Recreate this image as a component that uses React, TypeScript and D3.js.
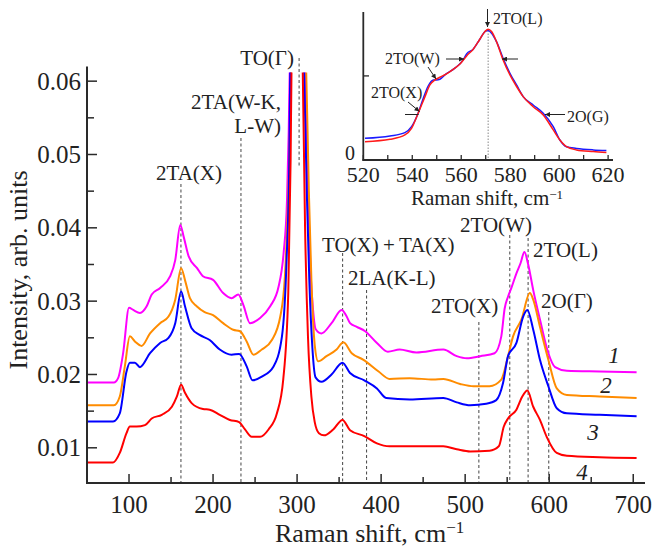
import React from "react";
import * as d3 from "d3";

// ---------- Main chart data (Raman shift, intensity) ----------
const shift1 = [50, 82, 87, 93, 100, 105, 113, 121, 127, 137, 149, 155, 161, 165, 171, 181, 188, 200, 212, 222, 230, 236, 244, 256, 268, 278, 284, 288, 290, 291.5, 300, 309, 313, 316, 319, 322, 329, 341, 353, 359, 363, 371, 381, 395, 408, 422, 442, 474, 490, 502, 518, 535, 543, 547, 551, 555, 561, 566, 570.5, 575, 581, 589, 599, 607, 621, 660, 704];
const int1 = [0.0189, 0.0189, 0.0195, 0.0229, 0.0291, 0.0288, 0.0284, 0.0293, 0.0309, 0.0318, 0.0334, 0.0356, 0.0404, 0.0388, 0.0361, 0.0345, 0.0334, 0.0329, 0.0311, 0.0304, 0.0309, 0.0295, 0.027, 0.0277, 0.0293, 0.032, 0.0366, 0.0438, 0.053, 0.063, 0.08, 0.063, 0.045, 0.034, 0.0288, 0.0262, 0.0256, 0.027, 0.0288, 0.0279, 0.027, 0.0265, 0.0259, 0.0243, 0.0231, 0.0234, 0.023, 0.0234, 0.0225, 0.0222, 0.0225, 0.0229, 0.0252, 0.029, 0.0306, 0.0318, 0.0338, 0.0352, 0.0367, 0.035, 0.0315, 0.0275, 0.0229, 0.021, 0.0205, 0.0204, 0.0203];

const shift2 = [50, 82, 89, 95, 101, 107, 115, 125, 137, 147, 155, 162, 167, 172.5, 180.5, 190, 200, 212, 224, 232, 240, 248, 258, 270, 280, 285.5, 289.5, 292, 293, 301, 310.5, 314, 317, 321, 325, 335, 347, 355, 365, 379, 397, 410, 434, 462, 474, 494, 510, 529, 543, 551, 557, 567, 577, 581, 589, 599, 609, 621, 660, 704];
const int2 = [0.0158, 0.0158, 0.017, 0.0211, 0.0252, 0.0245, 0.0239, 0.0256, 0.027, 0.0279, 0.0302, 0.0345, 0.0327, 0.0304, 0.0293, 0.0285, 0.0281, 0.027, 0.0261, 0.0259, 0.0245, 0.0227, 0.0234, 0.0247, 0.0279, 0.0334, 0.0447, 0.056, 0.063, 0.08, 0.063, 0.045, 0.033, 0.024, 0.0218, 0.0225, 0.0234, 0.0244, 0.0229, 0.022, 0.0204, 0.0194, 0.0195, 0.0193, 0.0194, 0.0187, 0.0184, 0.0184, 0.0193, 0.0225, 0.0252, 0.0275, 0.0311, 0.0302, 0.0265, 0.022, 0.0181, 0.0172, 0.017, 0.0168];

const shift3 = [50, 81, 89, 97, 101, 107, 113, 125, 137, 147, 155, 162, 166.6, 174.5, 184, 196, 208, 222, 231, 240, 247, 258, 272, 282, 287.5, 290.7, 292, 300, 308, 311.5, 314.5, 318, 322, 329, 341, 354, 363, 380, 395, 406, 434, 474, 490, 506, 525, 537, 545, 551, 561, 569, 574, 581, 589, 599, 609, 621, 660, 704];
const int3 = [0.0136, 0.0136, 0.0147, 0.0204, 0.0216, 0.0216, 0.021, 0.0229, 0.0243, 0.025, 0.027, 0.0313, 0.0293, 0.0263, 0.0254, 0.0247, 0.0234, 0.0227, 0.0228, 0.0211, 0.0192, 0.0197, 0.0211, 0.0252, 0.0356, 0.0493, 0.063, 0.08, 0.063, 0.045, 0.033, 0.024, 0.0196, 0.019, 0.02, 0.0216, 0.0202, 0.0192, 0.0181, 0.0168, 0.0166, 0.0168, 0.0162, 0.0158, 0.016, 0.0165, 0.0188, 0.0225, 0.0243, 0.0279, 0.0288, 0.0261, 0.022, 0.0184, 0.0154, 0.0147, 0.0145, 0.0143];

const shift4 = [50, 81, 89, 97, 101, 109, 119, 127, 139, 151, 157, 162, 166.6, 174.5, 188, 196, 208, 220, 231, 238, 246, 256, 266, 276, 283.5, 289.5, 292.3, 293.5, 300, 306.5, 309.5, 313, 317, 321, 326, 332, 343, 354, 363, 380, 395, 410, 434, 474, 490, 506, 529, 540, 546, 551, 561, 568, 574, 581, 589, 597, 609, 621, 660, 704];
const int4 = [0.008, 0.008, 0.0093, 0.012, 0.0129, 0.0129, 0.0131, 0.014, 0.0145, 0.0156, 0.017, 0.0186, 0.0175, 0.0161, 0.0153, 0.0152, 0.0145, 0.0138, 0.0135, 0.0125, 0.0115, 0.0115, 0.0125, 0.0147, 0.0193, 0.0311, 0.0493, 0.063, 0.08, 0.063, 0.04, 0.025, 0.017, 0.0135, 0.012, 0.0117, 0.0125, 0.0138, 0.0124, 0.0116, 0.0106, 0.0102, 0.0102, 0.0102, 0.0098, 0.0095, 0.0096, 0.0102, 0.0129, 0.014, 0.0152, 0.017, 0.0178, 0.0156, 0.0138, 0.0115, 0.0093, 0.0089, 0.0087, 0.0086];

const seriesColors = ["#ff00ff", "#ff8c00", "#0000ff", "#ff0000"];
const seriesNames = ["1", "2", "3", "4"];
const nameLabelPos = [[614, 363], [606, 393], [593, 440], [582, 480]];

const xTicks = [100, 200, 300, 400, 500, 600, 700];
const xMinorTicks = [150, 250, 350, 450, 550, 650];
const yTicks = [0.01, 0.02, 0.03, 0.04, 0.05, 0.06];
const yMinorTicks = [0.015, 0.025, 0.035, 0.045, 0.055];

// wavenumbers of the dashed assignment lines
const annoShift = [161.8, 233.2, 302.4, 354.2, 382.7, 516.3, 553.1, 574.9, 599.5];

// ---------- Inset data ----------
const insetShiftBlue = [520.7, 530.9, 537.0, 539.7, 542.4, 544.5, 546.5, 548.6, 549.9, 551.3, 553.3, 557.4, 560.8, 562.2, 564.9, 567.6, 569.7, 571.0, 572.4, 574.4, 577.1, 579.9, 582.6, 585.3, 589.4, 593.5, 597.6, 600.3, 603.0, 607.1, 613.9, 619.3];
const insetBlue = [0.129, 0.143, 0.163, 0.198, 0.278, 0.367, 0.44, 0.476, 0.476, 0.48, 0.506, 0.546, 0.595, 0.631, 0.659, 0.718, 0.764, 0.77, 0.754, 0.704, 0.605, 0.516, 0.446, 0.377, 0.327, 0.278, 0.198, 0.119, 0.079, 0.069, 0.06, 0.056];
const insetShiftRed = [520.7, 530.9, 537.0, 539.7, 542.4, 545.2, 547.2, 549.3, 551.3, 554.0, 557.4, 559.5, 562.2, 564.9, 567.6, 569.7, 571.0, 572.4, 574.4, 577.1, 579.9, 582.6, 585.3, 589.4, 593.5, 597.6, 600.3, 603.0, 607.1, 613.9, 619.3];
const insetRed = [0.109, 0.123, 0.149, 0.188, 0.278, 0.377, 0.446, 0.476, 0.492, 0.512, 0.546, 0.571, 0.619, 0.659, 0.718, 0.764, 0.778, 0.764, 0.704, 0.595, 0.506, 0.437, 0.377, 0.317, 0.268, 0.179, 0.119, 0.079, 0.06, 0.05, 0.044];
const insetXTicks = [520, 540, 560, 580, 600, 620];
const insetXMinor = [530, 550, 570, 590, 610];
const insetYTicks = [0, 0.5];
const insetMarker = 571;

const FONT = "'Liberation Serif', 'Times New Roman', serif";
const INK = "#2a2a2a";

export default function App() {
  const x = d3.scaleLinear().domain([50, 714]).range([87, 645]);
  const y = d3.scaleLinear().domain([0.0052, 0.062]).range([483, 66.5]);
  const line = (xs: number[], ys: number[]) =>
    d3.line<number>().x((_, i) => x(xs[i])).y((d) => y(d)).curve(d3.curveMonotoneX)(ys) || "";
  const shifts = [shift1, shift2, shift3, shift4];
  const ints = [int1, int2, int3, int4];

  const ix = d3.scaleLinear().domain([520, 622]).range([363.3, 613]);
  const iy = d3.scaleLinear().domain([0, 0.88]).range([160, 12]);
  const iline = (xs: number[], ys: number[]) =>
    d3.line<number>().x((_, i) => ix(xs[i])).y((d) => iy(d)).curve(d3.curveMonotoneX)(ys) || "";

  const annoTops = [184, 138, 58, 253, 290, 322, 235, 238, 312];
  const annoBottoms = [483, 483, 168, 483, 483, 483, 483, 483, 483];

  const annoTexts: { t: string; x: number; y: number; anchor: string }[] = [
    { t: "2TA(X)", x: 156, y: 180, anchor: "start" },
    { t: "2TA(W-K,", x: 281, y: 109, anchor: "end" },
    { t: "L-W)", x: 281, y: 133, anchor: "end" },
    { t: "TO(Γ)", x: 294, y: 65, anchor: "end" },
    { t: "TO(X)\u2009+\u2009TA(X)", x: 322, y: 252, anchor: "start" },
    { t: "2LA(K-L)", x: 348, y: 285, anchor: "start" },
    { t: "2TO(X)", x: 431, y: 313, anchor: "start" },
    { t: "2TO(W)", x: 460, y: 232, anchor: "start" },
    { t: "2TO(L)", x: 533, y: 257, anchor: "start" },
    { t: "2O(Γ)", x: 541, y: 308, anchor: "start" },
  ];

  return (
    <svg width={655} height={550} style={{ position: "absolute", left: 0, top: 0, background: "#fff" }} fontFamily={FONT}>
      <defs>
        <clipPath id="plotclip">
          <rect x={87} y={72.5} width={560} height={411} />
        </clipPath>
        <marker id="ah" viewBox="0 0 10 10" refX="10" refY="5" markerWidth="7" markerHeight="5" markerUnits="userSpaceOnUse" orient="auto">
          <path d="M0,0 L10,5 L0,10 z" fill="#222" />
        </marker>
      </defs>
      <rect width={655} height={550} fill="#fff" />

      {/* dashed annotation lines */}
      {annoShift.map((s, i) => (
        <line key={"dl" + i} x1={x(s)} x2={x(s)} y1={annoTops[i]} y2={annoBottoms[i]} stroke="#444" strokeWidth={1} strokeDasharray="3,2.5" />
      ))}

      {/* curves */}
      <g clipPath="url(#plotclip)">
        {shifts.map((xs, i) => (
          <path key={"c" + i} d={line(xs, ints[i])} fill="none" stroke={seriesColors[i]} strokeWidth={2} strokeLinejoin="round" />
        ))}
      </g>

      {/* axes */}
      <line x1={87} x2={87} y1={66.5} y2={484} stroke={INK} strokeWidth={2} />
      <line x1={86} x2={645} y1={483} y2={483} stroke={INK} strokeWidth={2} />
      {xTicks.map((t) => (
        <g key={"xt" + t}>
          <line x1={x(t)} x2={x(t)} y1={483} y2={474} stroke={INK} strokeWidth={1.5} />
          <text x={x(t)} y={513} fontSize={25} textAnchor="middle" fill="#222">{t}</text>
        </g>
      ))}
      {xMinorTicks.map((t) => (
        <line key={"xm" + t} x1={x(t)} x2={x(t)} y1={483} y2={477} stroke={INK} strokeWidth={1.5} />
      ))}
      {yTicks.map((t) => (
        <g key={"yt" + t}>
          <line x1={87} x2={97} y1={y(t)} y2={y(t)} stroke={INK} strokeWidth={1.5} />
          <text x={81} y={y(t) + 8.5} fontSize={25} textAnchor="end" fill="#222">{t.toFixed(2)}</text>
        </g>
      ))}
      {yMinorTicks.map((t) => (
        <line key={"ym" + t} x1={87} x2={94} y1={y(t)} y2={y(t)} stroke={INK} strokeWidth={1.5} />
      ))}
      <text x={275} y={542} fontSize={26} fill="#222">
        Raman shift, cm<tspan dy={-9} fontSize={17}>−1</tspan>
      </text>
      <text transform="translate(27,270) rotate(-90)" fontSize={26} textAnchor="middle" fill="#222">
        Intensity, arb. units
      </text>

      {/* annotation labels */}
      {annoTexts.map((a, i) => (
        <text key={"at" + i} x={a.x} y={a.y} fontSize={21} textAnchor={a.anchor as any} fill="#222">{a.t}</text>
      ))}

      {/* curve numbers */}
      {seriesNames.map((n, i) => (
        <text key={"n" + i} x={nameLabelPos[i][0]} y={nameLabelPos[i][1]} fontSize={23} fontStyle="italic" textAnchor="middle" fill="#222">{n}</text>
      ))}

      {/* ---------- inset ---------- */}
      <line x1={ix(insetMarker)} x2={ix(insetMarker)} y1={iy(0.77)} y2={160} stroke="#888" strokeWidth={1} strokeDasharray="1.5,1.5" />
      <path d={iline(insetShiftBlue, insetBlue)} fill="none" stroke="#1a1aff" strokeWidth={1.5} />
      <path d={iline(insetShiftRed, insetRed)} fill="none" stroke="#ff1a1a" strokeWidth={1.5} />
      <line x1={363.3} x2={363.3} y1={12} y2={161} stroke={INK} strokeWidth={1.8} />
      <line x1={362.5} x2={613} y1={160} y2={160} stroke={INK} strokeWidth={1.8} />
      {insetXTicks.map((t) => (
        <g key={"ixt" + t}>
          <line x1={ix(t)} x2={ix(t)} y1={160} y2={155} stroke={INK} strokeWidth={1.3} />
          <text x={ix(t)} y={182} fontSize={22} textAnchor="middle" fill="#222">{t}</text>
        </g>
      ))}
      {insetXMinor.map((t) => (
        <line key={"ixm" + t} x1={ix(t)} x2={ix(t)} y1={160} y2={155} stroke={INK} strokeWidth={1.3} />
      ))}
      {insetYTicks.map((t) => (
        <line key={"iyt" + t} x1={363.3} x2={369} y1={iy(t)} y2={iy(t)} stroke={INK} strokeWidth={1.3} />
      ))}
      <text x={355} y={160} fontSize={20} textAnchor="end" fill="#222">0</text>
      <text x={411} y={205} fontSize={21} fill="#222">
        Raman shift, cm<tspan dy={-6} fontSize={13}>−1</tspan>
      </text>

      {/* inset annotations */}
      <text x={493} y={24} fontSize={16} fill="#222">2TO(L)</text>
      <line x1={487.5} x2={487.5} y1={9} y2={27} stroke="#222" strokeWidth={1} markerEnd="url(#ah)" />
      <text x={385} y={64} fontSize={16} fill="#222">2TO(W)</text>
      <line x1={446} x2={464} y1={59} y2={59} stroke="#222" strokeWidth={1} markerEnd="url(#ah)" />
      <line x1={518} x2={502} y1={59} y2={59} stroke="#222" strokeWidth={1} markerEnd="url(#ah)" />
      <line x1={428} x2={436} y1={67} y2={79} stroke="#222" strokeWidth={1} markerEnd="url(#ah)" />
      <text x={371} y={98} fontSize={16} fill="#222">2TO(X)</text>
      <line x1={408} x2={419.5} y1={102} y2={111.5} stroke="#222" strokeWidth={1} markerEnd="url(#ah)" />
      <line x1={405} x2={418.5} y1={114.5} y2={114.5} stroke="#222" strokeWidth={1} />
      <text x={567} y={122} fontSize={16} fill="#222">2O(G)</text>
      <line x1={565} x2={545} y1={114.5} y2={114.5} stroke="#222" strokeWidth={1} markerEnd="url(#ah)" />
    </svg>
  );
}
